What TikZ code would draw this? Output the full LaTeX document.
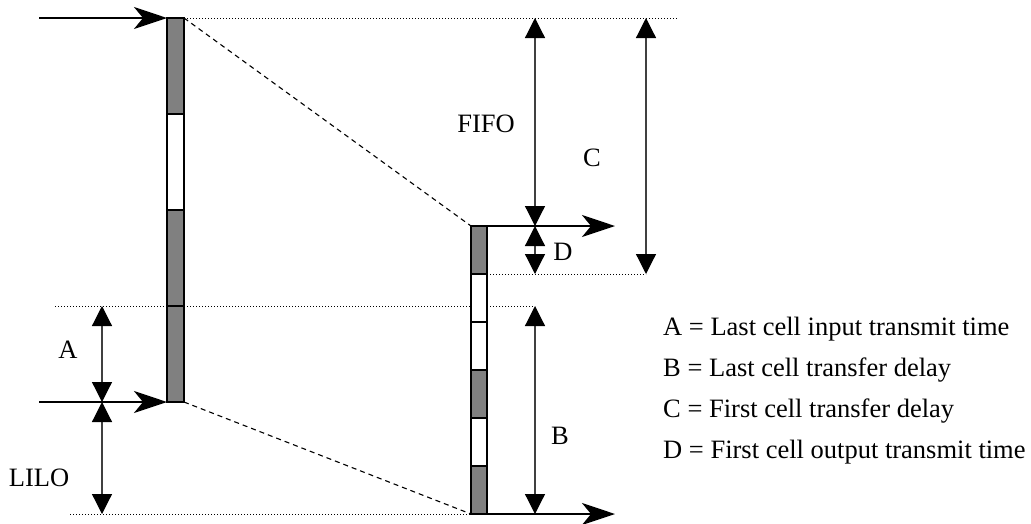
\documentclass[tikz,border=0pt]{standalone}
\usepackage{fontspec}
\setmainfont{Liberation Serif}
\usetikzlibrary{arrows.meta}
\begin{document}
\begin{tikzpicture}[x=1pt,y=-1pt,
  flow/.style={line width=2.6pt,-{Stealth[length=33pt,width=22pt,inset=9pt]}},
  dim/.style={line width=1.2pt,draw=black!75,{Triangle[length=20pt,width=20pt,color=black]}-{Triangle[length=20pt,width=20pt,color=black]}},
  guide/.style={line width=1pt,dotted},
  proj/.style={line width=1.1pt,dash pattern=on 5pt off 4pt},
  cellbox/.style={draw=black,line width=2pt,inner sep=0pt,outer sep=0pt},
  full/.style={cellbox,fill=black!50},
  empty/.style={cellbox,fill=white},
  lbl/.style={inner sep=0pt,font=\fontsize{26.5}{30}\selectfont},
  legend/.style={inner sep=0pt,anchor=base west,font=\fontsize{26.5}{30}\selectfont}]
\useasboundingbox (0,0) rectangle (1031,523);
% corner coordinates
\coordinate (LT) at (184,18);
\coordinate (LB) at (184,402);
\coordinate (RT) at (471,226);
\coordinate (RB) at (471,514);
% guide lines (dotted)
\coordinate (g1a) at (184,18);  \coordinate (g1b) at (678,18);
\coordinate (g2a) at (487,274); \coordinate (g2b) at (646,274);
\coordinate (g3a) at (55,306);  \coordinate (g3b) at (535,306);
\coordinate (g4a) at (70,514);  \coordinate (g4b) at (471,514);
\draw[guide] (g1a) -- (g1b);
\draw[guide] (g2a) -- (g2b);
\draw[guide] (g3a) -- (g3b);
\draw[guide] (g4a) -- (g4b);
% projection lines (dashed)
\draw[proj] (LT) -- (RT);
\draw[proj] (LB) -- (RB);
% left bar
\path[full]  (167,18)  rectangle (184,114) node[pos=.5] (l1) {};
\path[empty] (167,114) rectangle (184,210) node[pos=.5] (l2) {};
\path[full]  (167,210) rectangle (184,306) node[pos=.5] (l3) {};
\path[full]  (167,306) rectangle (184,402) node[pos=.5] (l4) {};
% right bar
\path[full]  (471,226) rectangle (487,274) node[pos=.5] (r1) {};
\path[empty] (471,274) rectangle (487,322) node[pos=.5] (r2) {};
\path[empty] (471,322) rectangle (487,370) node[pos=.5] (r3) {};
\path[full]  (471,370) rectangle (487,418) node[pos=.5] (r4) {};
\path[empty] (471,418) rectangle (487,466) node[pos=.5] (r5) {};
\path[full]  (471,466) rectangle (487,514) node[pos=.5] (r6) {};
% flow arrows
\coordinate (i1s) at (39,18);   \coordinate (i1e) at (167,18);
\coordinate (i2s) at (39,402);  \coordinate (i2e) at (167,402);
\coordinate (o1s) at (487,226); \coordinate (o1e) at (615,226);
\coordinate (o2s) at (487,514); \coordinate (o2e) at (615,514);
\draw[flow] (i1s) -- (i1e);
\draw[flow] (i2s) -- (i2e);
\draw[flow] (o1s) -- (o1e);
\draw[flow] (o2s) -- (o2e);
% dimension arrows
\coordinate (fifoT) at (535,18);  \coordinate (fifoB) at (535,226);
\coordinate (dT) at (535,226);    \coordinate (dB) at (535,274);
\coordinate (cT) at (646,18);     \coordinate (cB) at (646,274);
\coordinate (aT) at (102,306);    \coordinate (aB) at (102,402);
\coordinate (liloT) at (102,402); \coordinate (liloB) at (102,514);
\coordinate (bT) at (535,306);    \coordinate (bB) at (535,514);
\draw[dim] (fifoT) -- (fifoB);
\draw[dim] (dT) -- (dB);
\draw[dim] (cT) -- (cB);
\draw[dim] (aT) -- (aB);
\draw[dim] (liloT) -- (liloB);
\draw[dim] (bT) -- (bB);
% labels
\node[lbl] (fifo) at (486,124) {FIFO};
\node[lbl] (c) at (592,158) {C};
\node[lbl] (d) at (563,252) {D};
\node[lbl] (b) at (560,436) {B};
\node[lbl] (a) at (68,350) {A};
\node[lbl] (lilo) at (39,478) {LILO};
% legend
\node[legend] (la) at (663,335) {A = Last cell input transmit time};
\node[legend] (lb) at (663,376) {B = Last cell transfer delay};
\node[legend] (lc) at (663,417) {C = First cell transfer delay};
\node[legend] (ld) at (663,458) {D = First cell output transmit time};
\end{tikzpicture}
\end{document}
